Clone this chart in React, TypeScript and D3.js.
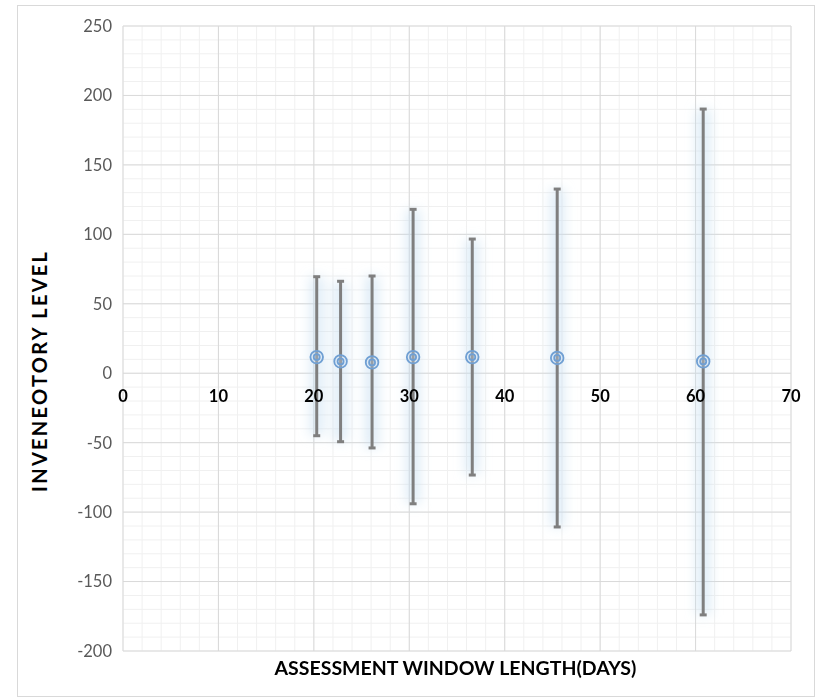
import React from "react";
import * as d3 from "d3";

const windowDays = [20.3, 22.8, 26.1, 30.4, 36.6, 45.5, 60.8];
const meanLevel = [11.6, 8.5, 7.8, 11.6, 11.6, 11, 8.5];
const upperLevel = [69.5, 66.2, 70, 118, 96.6, 132.6, 190.2];
const lowerLevel = [-45, -49.3, -53.8, -94, -73.3, -110.7, -174];
const xTicks = [0, 10, 20, 30, 40, 50, 60, 70];
const yTicks = [250, 200, 150, 100, 50, 0, -50, -100, -150, -200];

const W = 816, H = 699;
const L = 123, R = 791, T = 26, B = 651;

export default function App() {
  const x = d3.scaleLinear().domain([0, 70]).range([L, R]);
  const y = d3.scaleLinear().domain([-200, 250]).range([B, T]);
  const xMinor = d3.range(0, 70.001, 2);
  const yMinor = d3.range(-200, 250.001, 10);
  const font = "Lato, 'Open Sans', sans-serif";
  return (
    <svg width={W} height={H} style={{ position: "absolute", left: 0, top: 0, background: "#fff" }}>
      <defs>
        <filter id="glow" x="-300%" y="-20%" width="700%" height="140%">
          <feGaussianBlur stdDeviation="6" />
        </filter>
      </defs>
      <rect x={17.5} y={5.5} width={W - 19} height={H - 8} fill="#fff" stroke="#d9d9d9" />
      {xMinor.map((v) => (
        <line key={"xm" + v} x1={x(v)} x2={x(v)} y1={T} y2={B} stroke="#f0f0f0" strokeWidth={1} />
      ))}
      {yMinor.map((v) => (
        <line key={"ym" + v} x1={L} x2={R} y1={y(v)} y2={y(v)} stroke="#f0f0f0" strokeWidth={1} />
      ))}
      {xTicks.map((v) => (
        <line key={"xg" + v} x1={x(v)} x2={x(v)} y1={T} y2={B} stroke="#d9d9d9" strokeWidth={1} />
      ))}
      {yTicks.map((v) => (
        <line key={"yg" + v} x1={L} x2={R} y1={y(v)} y2={y(v)} stroke="#d9d9d9" strokeWidth={1} />
      ))}
      <g filter="url(#glow)">
        {windowDays.map((d, i) => (
          <line key={"gl" + i} x1={x(d)} x2={x(d)} y1={y(upperLevel[i])} y2={y(lowerLevel[i])} stroke="#c4dcf1" strokeWidth={14} opacity={0.55} />
        ))}
      </g>
      {windowDays.map((d, i) => (
        <g key={"eb" + i} stroke="#7f7f7f" strokeWidth={3}>
          <line x1={x(d)} x2={x(d)} y1={y(upperLevel[i])} y2={y(lowerLevel[i])} />
          <line x1={x(d) - 3.5} x2={x(d) + 3.5} y1={y(upperLevel[i])} y2={y(upperLevel[i])} />
          <line x1={x(d) - 3.5} x2={x(d) + 3.5} y1={y(lowerLevel[i])} y2={y(lowerLevel[i])} />
        </g>
      ))}
      {windowDays.map((d, i) => (
        <g key={"mk" + i} fill="none" stroke="#6f9fd3" strokeWidth={1.8}>
          <circle cx={x(d)} cy={y(meanLevel[i])} r={6.3} fill="rgba(200,220,240,0.35)" />
          <circle cx={x(d)} cy={y(meanLevel[i])} r={3} />
        </g>
      ))}
      {yTicks.map((v) => (
        <text key={"yt" + v} x={112} y={y(v)} dy="0.36em" textAnchor="end" fontFamily={font} fontSize={16.5} fill="#595959">
          {v}
        </text>
      ))}
      {xTicks.map((v) => (
        <text key={"xt" + v} x={x(v)} y={y(0) + 29} textAnchor="middle" fontFamily={font} fontSize={16.5} fontWeight="bold" fill="#000">
          {v}
        </text>
      ))}
      <text x={455.5} y={675} textAnchor="middle" fontFamily={font} fontSize={19.5} fontWeight="bold" fill="#000">
        ASSESSMENT WINDOW LENGTH(DAYS)
      </text>
      <text transform={`translate(47,372) rotate(-90)`} textAnchor="middle" fontFamily={font} fontSize={20} fontWeight="bold" fill="#000" textLength={240} lengthAdjust="spacing">
        INVENEOTORY LEVEL
      </text>
    </svg>
  );
}
